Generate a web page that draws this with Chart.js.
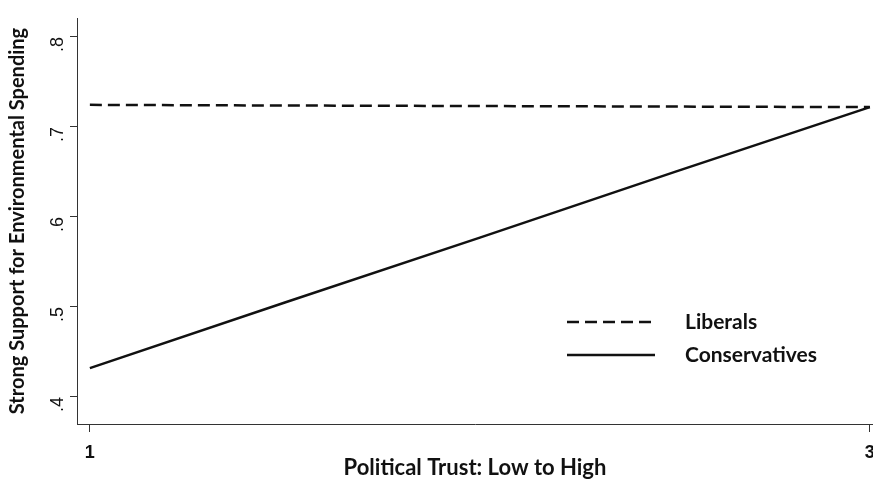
<!DOCTYPE html>
<html>
<head>
<meta charset="utf-8">
<script src="https://cdn.jsdelivr.net/npm/chart.js@4.4.1/dist/chart.umd.min.js"></script>
<style>
  html, body { margin: 0; padding: 0; background: #fff; }
  #wrap { width: 873px; height: 482px; position: relative; }
</style>
</head>
<body>
<div id="wrap"><canvas id="c" width="873" height="482"></canvas></div>
<script>
// Predicted share with strong support, by political trust
const trustLevels = [1, 1.5, 2, 2.5, 3];
const liberals = [0.7245, 0.7238, 0.7232, 0.7226, 0.7220];
const conservatives = [0.432, 0.505, 0.577, 0.650, 0.722];
const yTicks = [0.4, 0.5, 0.6, 0.7, 0.8];
const xTicks = [1, 3];
const seriesNames = ['Liberals', 'Conservatives'];

const xTitleFont = { family: 'Lato, "Open Sans", sans-serif', size: 22, weight: 'bold' };
const yTitleFont = { family: 'Lato, "Open Sans", sans-serif', size: 20, weight: 'bold' };
const xTickFont = { family: '"Liberation Sans", Arial, sans-serif', size: 18, weight: 'bold' };
const yTickFont = { family: '"Liberation Sans", Arial, sans-serif', size: 18, weight: 'normal' };

function fmtTick(v) {
  return String(Math.round(v * 10) / 10).replace(/^0/, '');
}

// Legend drawn inside the plotting area, from dataset styles
const innerLegend = {
  id: 'innerLegend',
  afterDraw(chart) {
    const ctx = chart.ctx;
    const x0 = 567, x1 = 655, tx = 685;
    const ys = [322, 355];
    chart.data.datasets.forEach((ds, i) => {
      ctx.save();
      ctx.strokeStyle = ds.borderColor;
      ctx.lineWidth = ds.borderWidth;
      ctx.setLineDash(ds.borderDash || []);
      ctx.beginPath();
      ctx.moveTo(x0, ys[i]);
      ctx.lineTo(x1, ys[i]);
      ctx.stroke();
      ctx.setLineDash([]);
      ctx.fillStyle = '#111';
      ctx.font = 'bold 21px Lato, "Open Sans", sans-serif';
      ctx.textBaseline = 'middle';
      ctx.fillText(ds.label, tx, ys[i]);
      ctx.restore();
    });
  }
};

new Chart(document.getElementById('c'), {
  type: 'line',
  data: {
    datasets: [
      {
        label: seriesNames[0],
        data: trustLevels.map((x, i) => ({ x, y: liberals[i] })),
        borderColor: '#111',
        borderWidth: 2.5,
        borderDash: [12, 6],
        pointRadius: 0,
        fill: false,
        tension: 0
      },
      {
        label: seriesNames[1],
        data: trustLevels.map((x, i) => ({ x, y: conservatives[i] })),
        borderColor: '#111',
        borderWidth: 2.5,
        pointRadius: 0,
        fill: false,
        tension: 0
      }
    ]
  },
  options: {
    responsive: false,
    animation: false,
    layout: { padding: { top: 18, right: 0, left: 0, bottom: 0 } },
    plugins: {
      legend: { display: false },
      tooltip: { enabled: false }
    },
    scales: {
      x: {
        type: 'linear',
        min: 0.967,
        max: 3.008,
        afterBuildTicks(scale) { scale.ticks = xTicks.map(v => ({ value: v })); },
        afterFit(scale) { scale.height = 58; scale.paddingLeft = 0; scale.paddingRight = 0; },
        grid: { display: true, drawOnChartArea: false, drawTicks: true, tickLength: 8, color: '#333', lineWidth: 1 },
        border: { display: true, color: '#333', width: 1 },
        ticks: { font: xTickFont, color: '#111', padding: 10, maxRotation: 0, autoSkip: false, callback: v => String(v) },
        title: { display: true, text: 'Political Trust: Low to High', font: xTitleFont, color: '#111', padding: { top: 0, bottom: 1 } }
      },
      y: {
        type: 'linear',
        min: 0.37,
        max: 0.821,
        afterBuildTicks(scale) { scale.ticks = yTicks.map(v => ({ value: v })); },
        afterFit(scale) { scale.width = 77; scale.paddingTop = 0; scale.paddingBottom = 0; },
        grid: { display: true, drawOnChartArea: false, drawTicks: true, tickLength: 7, color: '#333', lineWidth: 1 },
        border: { display: true, color: '#333', width: 1 },
        ticks: { font: yTickFont, color: '#111', padding: 12, minRotation: 90, maxRotation: 90, autoSkip: false, callback: v => fmtTick(v) },
        title: { display: true, text: 'Strong Support for Environmental Spending', font: yTitleFont, color: '#111', padding: { top: 6, bottom: 0 } }
      }
    }
  },
  plugins: [innerLegend]
});
</script>
</body>
</html>
